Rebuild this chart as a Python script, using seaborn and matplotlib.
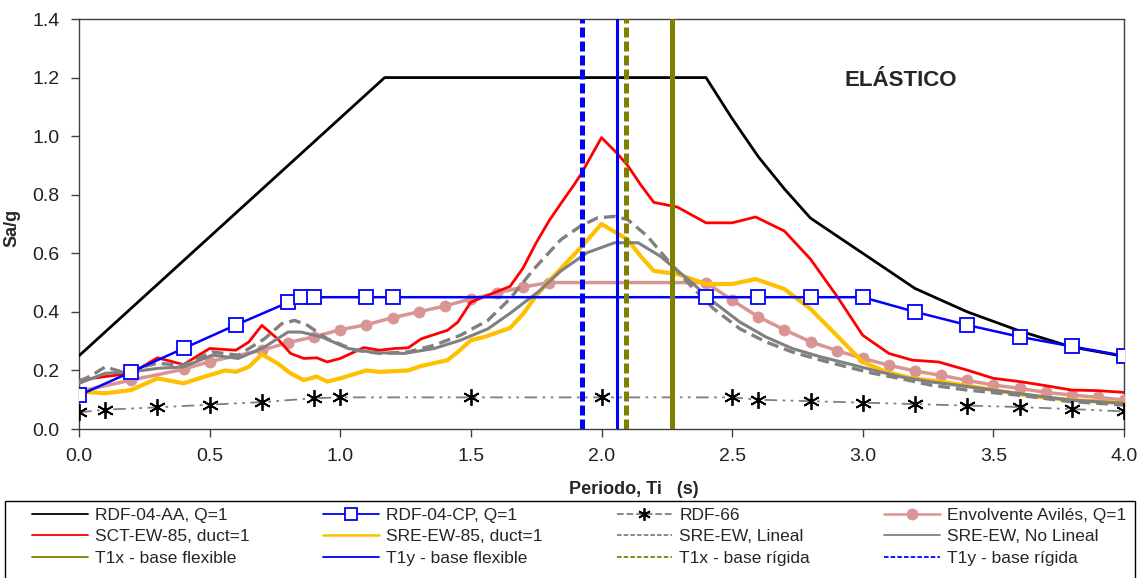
import matplotlib
matplotlib.use("Agg")
import matplotlib.pyplot as plt
import seaborn as sns
from matplotlib.lines import Line2D
from matplotlib.patches import Rectangle
from matplotlib.legend_handler import HandlerLine2D

# ---------------- data ----------------
aa_T = [0, 1.17, 2.4, 2.5, 2.6, 2.7, 2.8, 3.0, 3.2, 3.4, 3.6, 3.8, 4.0]
aa_v = [0.25, 1.2, 1.2, 1.06, 0.93, 0.82, 0.72, 0.60, 0.48, 0.40, 0.335, 0.28, 0.248]

cp_T = [0, 0.2, 0.4, 0.6, 0.8, 0.85, 0.9, 1.1, 1.2, 2.4, 2.6, 2.8, 3.0, 3.2, 3.4, 3.6, 3.8, 4.0]
cp_v = [0.115, 0.195, 0.275, 0.355, 0.432, 0.45, 0.45, 0.45, 0.45, 0.45, 0.45, 0.45, 0.45,
        0.40, 0.355, 0.315, 0.282, 0.25]

r66_T = [0, 0.1, 0.3, 0.5, 0.7, 0.9, 1.0, 1.5, 2.0, 2.5, 2.6, 2.8, 3.0, 3.2, 3.4, 3.6, 3.8, 4.0]
r66_v = [0.057, 0.066, 0.074, 0.083, 0.092, 0.105, 0.108, 0.108, 0.108, 0.108, 0.10, 0.095,
         0.09, 0.085, 0.08, 0.075, 0.068, 0.06]

env_T = [0, 0.2, 0.4, 0.5, 0.7, 0.8, 0.9, 1.0, 1.1, 1.2, 1.3, 1.4, 1.5, 1.6, 1.7, 1.8, 2.4,
         2.5, 2.6, 2.7, 2.8, 2.9, 3.0, 3.1, 3.2, 3.3, 3.4, 3.5, 3.6, 3.7, 3.8, 3.9, 4.0]
env_v = [0.128, 0.167, 0.204, 0.23, 0.269, 0.295, 0.315, 0.339, 0.356, 0.38, 0.40, 0.42,
         0.444, 0.464, 0.485, 0.50, 0.50, 0.44, 0.383, 0.339, 0.298, 0.268, 0.241, 0.218,
         0.198, 0.183, 0.166, 0.15, 0.139, 0.125, 0.116, 0.108, 0.099]

sct_T = [0.0, 0.1, 0.2, 0.3, 0.4, 0.5, 0.6, 0.65, 0.7, 0.76, 0.81, 0.86, 0.91, 0.95, 1.0,
         1.09, 1.15, 1.21, 1.26, 1.31, 1.41, 1.45, 1.50, 1.56, 1.65, 1.70, 1.75, 1.80, 1.85,
         1.895, 1.92, 2.0, 2.06, 2.10, 2.15, 2.20, 2.29, 2.40, 2.50, 2.59, 2.70, 2.80, 2.90,
         3.0, 3.10, 3.19, 3.29, 3.40, 3.50, 3.60, 3.70, 3.80, 3.90, 4.0]
sct_v = [0.167, 0.179, 0.19, 0.243, 0.22, 0.275, 0.269, 0.297, 0.354, 0.308, 0.258, 0.241,
         0.243, 0.229, 0.241, 0.278, 0.269, 0.275, 0.277, 0.308, 0.337, 0.365, 0.433, 0.455,
         0.487, 0.55, 0.636, 0.712, 0.777, 0.834, 0.868, 0.995, 0.941, 0.90, 0.834, 0.774,
         0.758, 0.704, 0.704, 0.724, 0.676, 0.58, 0.455, 0.32, 0.258, 0.235, 0.229, 0.201,
         0.173, 0.162, 0.148, 0.133, 0.131, 0.125]

sre85_T = [0.0, 0.1, 0.2, 0.3, 0.4, 0.5, 0.56, 0.6, 0.65, 0.7, 0.76, 0.81, 0.86, 0.91, 0.95,
           1.0, 1.1, 1.15, 1.26, 1.31, 1.41, 1.45, 1.50, 1.55, 1.65, 1.70, 1.75, 1.80, 1.92,
           2.0, 2.10, 2.15, 2.20, 2.29, 2.40, 2.50, 2.59, 2.70, 2.80, 2.90, 3.0, 3.09, 3.19,
           3.29, 3.40, 3.50, 3.60, 3.70, 3.80, 3.90, 4.0]
sre85_v = [0.128, 0.122, 0.133, 0.173, 0.156, 0.184, 0.20, 0.195, 0.212, 0.255, 0.224, 0.19,
           0.167, 0.179, 0.162, 0.173, 0.20, 0.195, 0.20, 0.215, 0.235, 0.263, 0.303, 0.314,
           0.345, 0.393, 0.455, 0.506, 0.619, 0.70, 0.647, 0.59, 0.54, 0.529, 0.495, 0.495,
           0.512, 0.478, 0.41, 0.32, 0.229, 0.195, 0.173, 0.163, 0.148, 0.133, 0.119, 0.107,
           0.099, 0.094, 0.088]

lin_T = [0.0, 0.05, 0.1, 0.165, 0.24, 0.3, 0.4, 0.51, 0.61, 0.71, 0.775, 0.825, 0.875, 0.95,
         1.055, 1.155, 1.26, 1.36, 1.46, 1.565, 1.65, 1.74, 1.845, 1.92, 1.985, 2.05, 2.10,
         2.175, 2.25, 2.33, 2.43, 2.53, 2.63, 2.73, 2.84, 2.94, 3.04, 3.14, 3.26, 3.4, 3.59,
         3.79, 4.0]
lin_v = [0.162, 0.184, 0.212, 0.195, 0.212, 0.224, 0.218, 0.263, 0.252, 0.308, 0.359, 0.371,
         0.354, 0.308, 0.269, 0.258, 0.263, 0.286, 0.32, 0.371, 0.445, 0.545, 0.647, 0.693,
         0.721, 0.726, 0.715, 0.659, 0.58, 0.50, 0.41, 0.342, 0.297, 0.263, 0.235, 0.212,
         0.19, 0.173, 0.15, 0.133, 0.116, 0.094, 0.082]

nl_T = [0.0, 0.1, 0.2, 0.3, 0.4, 0.51, 0.61, 0.71, 0.80, 0.85, 0.93, 1.03, 1.13, 1.245, 1.36,
        1.46, 1.565, 1.65, 1.76, 1.845, 1.945, 2.05, 2.14, 2.225, 2.33, 2.43, 2.53, 2.63,
        2.73, 2.84, 2.94, 3.04, 3.14, 3.26, 3.4, 3.59, 3.79, 4.0]
nl_v = [0.156, 0.19, 0.195, 0.207, 0.212, 0.252, 0.241, 0.28, 0.331, 0.331, 0.314, 0.275,
        0.261, 0.258, 0.275, 0.303, 0.342, 0.395, 0.47, 0.54, 0.602, 0.636, 0.636, 0.59,
        0.512, 0.433, 0.365, 0.314, 0.275, 0.246, 0.224, 0.201, 0.179, 0.161, 0.145, 0.122,
        0.099, 0.088]

period_names = ["T1x - base flexible", "T1y - base flexible", "T1x - base rígida", "T1y - base rígida"]
period_vals = [2.27, 2.06, 2.095, 1.925]

x_ticks = [0.0, 0.5, 1.0, 1.5, 2.0, 2.5, 3.0, 3.5, 4.0]
y_ticks = [0.0, 0.2, 0.4, 0.6, 0.8, 1.0, 1.2, 1.4]

# ---------------- style ----------------
sns.set_theme(style="ticks")
plt.rcParams["font.family"] = ["Liberation Sans", "DejaVu Sans"]
plt.rcParams["axes.edgecolor"] = "#404040"
plt.rcParams["axes.linewidth"] = 1.0

fig = plt.figure(figsize=(11.43, 5.78), dpi=100)
ax = fig.add_axes([79 / 1143, 1 - 429 / 578, (1124 - 79) / 1143, (429 - 19) / 578])

OLIVE = "#808000"
BLUE = "#0000FF"
ROSY = "#D99594"
YELLOW = "#FFC000"
GRAY = "#808080"

def line(x, y, **kw):
    sns.lineplot(x=x, y=y, ax=ax, sort=False, estimator=None, errorbar=None, legend=False, **kw)
    return ax.lines[-1]

h_aa = line(aa_T, aa_v, color="black", linewidth=2.0, zorder=3)
h_cp = line(cp_T, cp_v, color=BLUE, linewidth=1.8, marker="s", markersize=10,
            markerfacecolor="white", markeredgecolor=BLUE, markeredgewidth=1.3, zorder=6)
h_66 = line(r66_T, r66_v, color="#7F7F7F", linewidth=1.3, linestyle=(0, (7, 3, 1.5, 3, 1.5, 3)),
            marker=(6, 2, 0), markersize=12, markeredgecolor="black", markerfacecolor="black",
            markeredgewidth=1.3, zorder=5)
h_env = line(env_T, env_v, color=ROSY, linewidth=2.5, marker="o", markersize=8,
             markerfacecolor=ROSY, markeredgecolor=ROSY, markeredgewidth=0.5, zorder=3)
h_sct = line(sct_T, sct_v, color="#FF0000", linewidth=2.0, zorder=4)
h_sre = line(sre85_T, sre85_v, color=YELLOW, linewidth=3.0, zorder=3)
h_lin = line(lin_T, lin_v, color=GRAY, linewidth=2.4, linestyle=(0, (3.5, 1.8)), zorder=4)
h_nl = line(nl_T, nl_v, color=GRAY, linewidth=2.2, zorder=4)

vstyles = [
    dict(color=OLIVE, linewidth=3.6, linestyle="-"),
    dict(color=BLUE, linewidth=2.2, linestyle="-"),
    dict(color=OLIVE, linewidth=3.6, linestyle=(0, (2.0, 0.8))),
    dict(color=BLUE, linewidth=3.6, linestyle=(0, (2.0, 0.8))),
]
vh = []
for name, v, st in zip(period_names, period_vals, vstyles):
    vh.append(ax.axvline(v, zorder=7, **st))

ax.set_xlim(0, 4.0)
ax.set_ylim(0, 1.4)
ax.set_xticks(x_ticks)
ax.set_yticks(y_ticks)
ax.set_xticklabels([f"{t:.1f}" for t in x_ticks])
ax.set_yticklabels([f"{t:.1f}" for t in y_ticks])
ax.tick_params(axis="both", direction="out", length=6, width=1.0, color="#404040",
               labelsize=14, pad=8, labelcolor="#222222")
for s in ax.spines.values():
    s.set_visible(True)
    s.set_color("#404040")

ax.set_xlabel("")
ax.set_ylabel("Sa/g", fontsize=13, fontweight="bold")
ax.yaxis.set_label_coords(-59 / 1045, 0.49)
fig.text(634 / 1143, 1 - 490 / 578, "Periodo, Ti   (s)", fontsize=13, fontweight="bold",
         ha="center", va="center")
ax.text(2.93, 1.19, "ELÁSTICO", fontsize=16, fontweight="bold", ha="left", va="center")

# legend (row-major order in reference; matplotlib fills column-major)
def proxy(h):
    return Line2D([], [], color=h.get_color(), linewidth=1.3,
                  linestyle=h.get_linestyle(), marker=h.get_marker(),
                  markersize=h.get_markersize(), markerfacecolor=h.get_markerfacecolor(),
                  markeredgecolor=h.get_markeredgecolor(),
                  markeredgewidth=h.get_markeredgewidth())

rows = [
    [(h_aa, "RDF-04-AA, Q=1"), (h_cp, "RDF-04-CP, Q=1"), (h_66, "RDF-66"), (h_env, "Envolvente Avilés, Q=1")],
    [(h_sct, "SCT-EW-85, duct=1"), (h_sre, "SRE-EW-85, duct=1"), (h_lin, "SRE-EW, Lineal"), (h_nl, "SRE-EW, No Lineal")],
    [(vh[0], period_names[0]), (vh[1], period_names[1]), (vh[2], period_names[2]), (vh[3], period_names[3])],
]
handles, labels = [], []
for c in range(4):
    for r in range(3):
        h, lab = rows[r][c]
        p = proxy(h)
        if h is vh[2] or h is vh[3] or h is h_lin:
            p.set_linestyle((0, (2.5, 1.2)))
        if h is h_cp:
            p.set_markersize(8)
        if h is h_66:
            p.set_markersize(9)
        if h is h_env:
            p.set_markersize(8)
        if h is h_sre or h is h_env:
            p.set_linewidth(1.8)
        handles.append(p)
        labels.append(lab)

# legend frame (extends past the bottom edge like the reference)
fig.patches.append(Rectangle((5 / 1143, -0.02), 1130 / 1143, 1 - 501 / 578 + 0.02,
                             transform=fig.transFigure, fill=False, edgecolor="black",
                             linewidth=1.0, zorder=0))

leg_top = 1 - 502 / 578
leg = fig.legend(handles, labels, ncol=4, loc="upper left",
                 bbox_to_anchor=(26 / 1143, leg_top - 0.1, 1106 / 1143, 0.1), mode="expand",
                 frameon=False,
                 prop={"family": ["Liberation Sans Narrow", "Liberation Sans", "DejaVu Sans"], "size": 12.5},
                 handlelength=3.2, handletextpad=0.4, borderpad=0.35, labelspacing=0.35,
                 borderaxespad=0, columnspacing=1.0,
                 handler_map={Line2D: HandlerLine2D(numpoints=1)})

fig.savefig("out.png", dpi=100)
